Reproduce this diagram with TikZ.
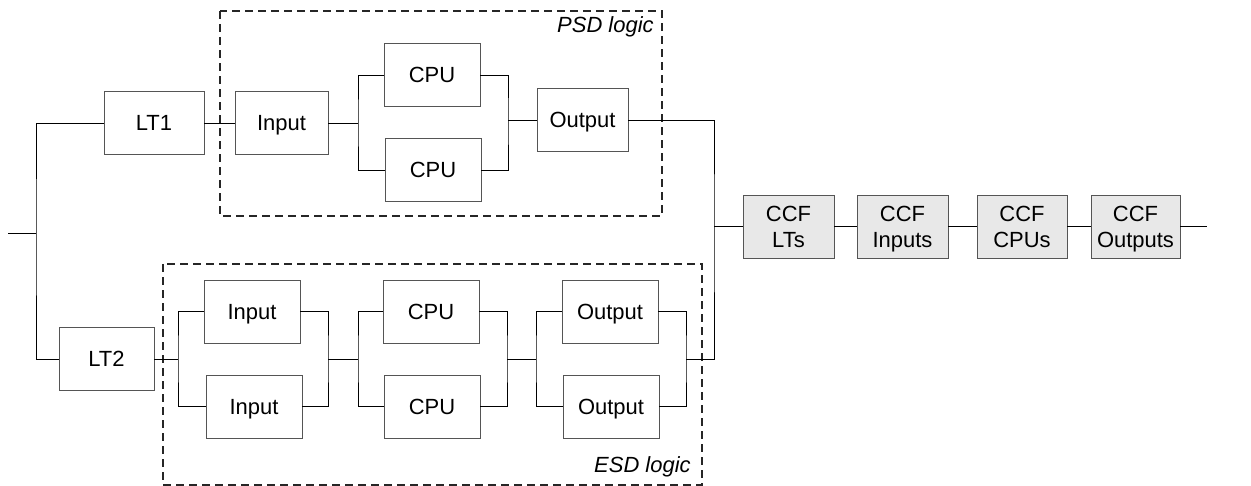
\documentclass[tikz,border=0pt]{standalone}
\usepackage{fontspec}
\setmainfont{Liberation Sans}
\usetikzlibrary{positioning}

\definecolor{blkline}{RGB}{85,85,85}
\definecolor{ccffill}{RGB}{232,232,232}

\tikzset{
  blk/.style={shape=rectangle,draw=blkline,line width=0.5pt,fill=white,
    minimum width=1.9cm,minimum height=1.26cm,inner sep=0pt,
    font=\fontsize{12.5}{15}\selectfont,align=center,
    text height=8.95pt,text depth=0pt},
  ccf/.style={blk,fill=ccffill,minimum width=1.82cm,text height=23.95pt},
  wire/.style={draw=black,line width=0.5pt},
  grp/.style={draw=black!85,line width=0.6pt,dash pattern=on 4.6pt off 2.8pt},
  grplabel/.style={font=\fontsize{12.5}{15}\selectfont\itshape,anchor=east,inner sep=0pt}
}

\begin{document}
\begin{tikzpicture}[x=0.02cm,y=-0.02cm]
\useasboundingbox (0,0) rectangle (1251,486);

% logic groups
\draw[grp] (220,11) rectangle (662,216);
\draw[grp] (163,264) rectangle (702,485);
\node[grplabel] (psdlbl) at (654,27) {PSD logic};
\node[grplabel] (esdlbl) at (691,467) {ESD logic};

% transmitters
\node[blk,minimum width=2cm] (lt1) at (154,123) {LT1};
\node[blk] (lt2) at (106.5,359) {LT2};

% PSD channel
\node[blk,minimum width=1.86cm] (psdin) at (281.5,123) {Input};
\node[blk,minimum width=1.92cm] (psdcpu1) at (432,75) {CPU};
\node[blk,minimum width=1.92cm] (psdcpu2) at (433,170) {CPU};
\node[blk,minimum width=1.82cm] (psdout) at (582.5,120) {Output};

% ESD channel
\node[blk,minimum width=1.92cm] (esdin1) at (252,311.5) {Input};
\node[blk,minimum width=1.92cm] (esdin2) at (254,406.5) {Input};
\node[blk,minimum width=1.92cm] (esdcpu1) at (431,311.5) {CPU};
\node[blk,minimum width=1.92cm] (esdcpu2) at (432,406.5) {CPU};
\node[blk,minimum width=1.92cm] (esdout1) at (610,311.5) {Output};
\node[blk,minimum width=1.92cm] (esdout2) at (611,406.5) {Output};

% common cause failures
\node[ccf] (ccflt) at (788.5,226.5) {CCF\\LTs};
\node[ccf] (ccfin) at (902.5,226.5) {CCF\\Inputs};
\node[ccf,minimum width=1.8cm] (ccfcpu) at (1022,226.5) {CCF\\CPUs};
\node[ccf,minimum width=1.78cm] (ccfout) at (1135.5,226.5) {CCF\\Outputs};

% junction points
\coordinate (src) at (8,233);
\coordinate (split) at (36,233);
\coordinate (psdj1) at (358,123);
\coordinate (psdj2) at (508,120);
\coordinate (esdj1) at (178,359);
\coordinate (esdj2) at (328,359);
\coordinate (esdj3) at (358,359);
\coordinate (esdj4) at (507,359);
\coordinate (esdj5) at (536,359);
\coordinate (esdj6) at (686,359);
\coordinate (merge) at (714,226.5);
\coordinate (sink) at (1207,226.5);

% wiring
\draw[wire] (src) -- (split);
\draw[wire] (lt1.west) -| (split) |- (lt2.west);
\draw[wire] (lt1.east) -- (psdin.west);
\draw[wire] (psdin.east) -- (psdj1);
\draw[wire] (psdcpu1.west) -| (psdj1) |- (psdcpu2.west);
\draw[wire] (psdcpu1.east) -| (psdj2) |- (psdcpu2.east);
\draw[wire] (psdj2) -- (psdout.west);

\draw[wire] (lt2.east) -- (esdj1);
\draw[wire] (esdin1.west) -| (esdj1) |- (esdin2.west);
\draw[wire] (esdin1.east) -| (esdj2) |- (esdin2.east);
\draw[wire] (esdj2) -- (esdj3);
\draw[wire] (esdcpu1.west) -| (esdj3) |- (esdcpu2.west);
\draw[wire] (esdcpu1.east) -| (esdj4) |- (esdcpu2.east);
\draw[wire] (esdj4) -- (esdj5);
\draw[wire] (esdout1.west) -| (esdj5) |- (esdout2.west);
\draw[wire] (esdout1.east) -| (esdj6) |- (esdout2.east);

\draw[wire] (psdout.east) -| (merge) |- (esdj6);
\draw[wire] (merge) -- (ccflt.west);
\draw[wire] (ccflt) -- (ccfin);
\draw[wire] (ccfin) -- (ccfcpu);
\draw[wire] (ccfcpu) -- (ccfout);
\draw[wire] (ccfout.east) -- (sink);
\end{tikzpicture}
\end{document}
